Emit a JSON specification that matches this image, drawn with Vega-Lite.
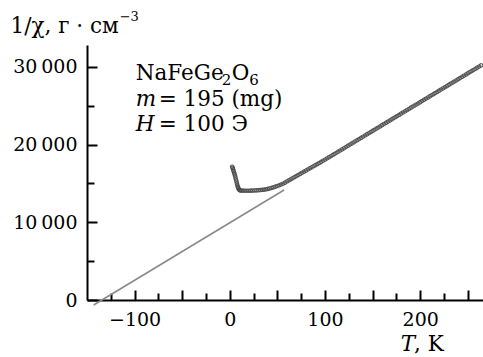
{
  "$schema": "https://vega.github.io/schema/vega-lite/v6.json",
  "width": 396,
  "height": 255,
  "autosize": {"type": "none"},
  "padding": {"left": 87, "top": 45, "right": 0, "bottom": 57},
  "config": {
    "view": {"stroke": null},
    "font": "DejaVu Serif",
    "axis": {
      "grid": false,
      "domainColor": "black",
      "domainWidth": 2,
      "tickColor": "black",
      "tickWidth": 2,
      "labelFont": "DejaVu Serif",
      "labelFontSize": 19,
      "labelColor": "black",
      "title": null,
      "labelOverlap": false,
      "labelFlush": false
    }
  },
  "resolve": {"axis": {"x": "independent", "y": "independent"}},
  "layer": [
    {
      "data": {"values": [
        {"T": -143, "v": -640},
        {"T": 57, "v": 14150}
      ]},
      "mark": {"type": "line", "color": "#8a8a8a", "strokeWidth": 1.6, "clip": false},
      "encoding": {
        "x": {
          "field": "T", "type": "quantitative",
          "scale": {"domain": [-150, 266], "nice": false, "zero": false},
          "axis": {
            "orient": "bottom",
            "values": [-100, -50, 0, 50, 100, 150, 200, 250],
            "tickSize": -10,
            "labelPadding": 20,
            "labelExpr": "datum.value % 100 === 0 ? datum.label : ''"
          }
        },
        "y": {
          "field": "v", "type": "quantitative",
          "scale": {"domain": [0, 32800], "nice": false, "zero": false},
          "axis": {
            "orient": "left",
            "values": [0, 10000, 20000, 30000],
            "tickSize": -10,
            "labelPadding": 20,
            "labelExpr": "datum.value === 0 ? '0' : format(datum.value / 1000, 'd') + '\u2009000'"
          }
        }
      }
    },
    {
      "data": {"values": [
        {"T": 2.5, "v": 17150}, {"T": 3, "v": 17000}, {"T": 3.5, "v": 16800}, {"T": 4, "v": 16600},
        {"T": 4.5, "v": 16400}, {"T": 5, "v": 16200}, {"T": 5.5, "v": 16000}, {"T": 6, "v": 15750},
        {"T": 6.5, "v": 15500}, {"T": 7, "v": 15250}, {"T": 7.5, "v": 15000}, {"T": 8, "v": 14750},
        {"T": 8.5, "v": 14550}, {"T": 9, "v": 14400}, {"T": 9.5, "v": 14250}, {"T": 10, "v": 14150},
        {"T": 11, "v": 14100}, {"T": 12, "v": 14080}, {"T": 14, "v": 14070}, {"T": 16, "v": 14060},
        {"T": 18, "v": 14060}, {"T": 20, "v": 14060}, {"T": 22, "v": 14070}, {"T": 24, "v": 14080},
        {"T": 26, "v": 14090}, {"T": 28, "v": 14100}, {"T": 30, "v": 14120}, {"T": 32, "v": 14140},
        {"T": 34, "v": 14170}, {"T": 36, "v": 14200}, {"T": 38, "v": 14240}, {"T": 40, "v": 14290},
        {"T": 42, "v": 14350}, {"T": 44, "v": 14420}, {"T": 46, "v": 14500}, {"T": 48, "v": 14580},
        {"T": 50, "v": 14670}, {"T": 52, "v": 14760}, {"T": 54, "v": 14860}, {"T": 56, "v": 14960},
        {"T": 58, "v": 15100}, {"T": 60, "v": 15250}, {"T": 62, "v": 15390}, {"T": 64, "v": 15530},
        {"T": 66, "v": 15670}, {"T": 68, "v": 15810}, {"T": 70, "v": 15950}, {"T": 72, "v": 16090},
        {"T": 74, "v": 16230}, {"T": 76, "v": 16370}, {"T": 78, "v": 16510}, {"T": 80, "v": 16650},
        {"T": 82, "v": 16790}, {"T": 84, "v": 16930}, {"T": 86, "v": 17070}, {"T": 88, "v": 17210},
        {"T": 90, "v": 17350}, {"T": 92, "v": 17490}, {"T": 94, "v": 17630}, {"T": 96, "v": 17770},
        {"T": 98, "v": 17910}, {"T": 100, "v": 18050}, {"T": 102, "v": 18200}, {"T": 104, "v": 18350},
        {"T": 106, "v": 18490}, {"T": 108, "v": 18640}, {"T": 110, "v": 18790}, {"T": 112, "v": 18940},
        {"T": 114, "v": 19090}, {"T": 116, "v": 19230}, {"T": 118, "v": 19380}, {"T": 120, "v": 19530},
        {"T": 122, "v": 19680}, {"T": 124, "v": 19830}, {"T": 126, "v": 19970}, {"T": 128, "v": 20120},
        {"T": 130, "v": 20270}, {"T": 132, "v": 20420}, {"T": 134, "v": 20570}, {"T": 136, "v": 20710},
        {"T": 138, "v": 20860}, {"T": 140, "v": 21010}, {"T": 142, "v": 21160}, {"T": 144, "v": 21310},
        {"T": 146, "v": 21450}, {"T": 148, "v": 21600}, {"T": 150, "v": 21750}, {"T": 152, "v": 21900},
        {"T": 154, "v": 22050}, {"T": 156, "v": 22190}, {"T": 158, "v": 22340}, {"T": 160, "v": 22490},
        {"T": 162, "v": 22640}, {"T": 164, "v": 22790}, {"T": 166, "v": 22930}, {"T": 168, "v": 23080},
        {"T": 170, "v": 23230}, {"T": 172, "v": 23380}, {"T": 174, "v": 23530}, {"T": 176, "v": 23670},
        {"T": 178, "v": 23820}, {"T": 180, "v": 23970}, {"T": 182, "v": 24120}, {"T": 184, "v": 24270},
        {"T": 186, "v": 24410}, {"T": 188, "v": 24560}, {"T": 190, "v": 24710}, {"T": 192, "v": 24860},
        {"T": 194, "v": 25010}, {"T": 196, "v": 25150}, {"T": 198, "v": 25300}, {"T": 200, "v": 25450},
        {"T": 202, "v": 25600}, {"T": 204, "v": 25750}, {"T": 206, "v": 25890}, {"T": 208, "v": 26040},
        {"T": 210, "v": 26190}, {"T": 212, "v": 26340}, {"T": 214, "v": 26490}, {"T": 216, "v": 26630},
        {"T": 218, "v": 26780}, {"T": 220, "v": 26930}, {"T": 222, "v": 27080}, {"T": 224, "v": 27230},
        {"T": 226, "v": 27370}, {"T": 228, "v": 27520}, {"T": 230, "v": 27670}, {"T": 232, "v": 27820},
        {"T": 234, "v": 27970}, {"T": 236, "v": 28110}, {"T": 238, "v": 28260}, {"T": 240, "v": 28410},
        {"T": 242, "v": 28560}, {"T": 244, "v": 28710}, {"T": 246, "v": 28850}, {"T": 248, "v": 29000},
        {"T": 250, "v": 29150}, {"T": 252, "v": 29300}, {"T": 254, "v": 29450}, {"T": 256, "v": 29590},
        {"T": 258, "v": 29740}, {"T": 260, "v": 29890}, {"T": 262, "v": 30040}, {"T": 264, "v": 30190}
      ]},
      "mark": {"type": "point", "shape": "circle", "filled": false, "size": 12, "strokeWidth": 1.1, "color": "#4a4a4a", "opacity": 0.9},
      "encoding": {
        "x": {
          "field": "T", "type": "quantitative",
          "axis": {
            "orient": "bottom",
            "values": [-125, -75, -25, 25, 75, 125, 175, 225],
            "tickSize": -7,
            "labels": false,
            "domain": false
          }
        },
        "y": {
          "field": "v", "type": "quantitative",
          "axis": {
            "orient": "left",
            "values": [5000, 15000, 25000],
            "tickSize": -7,
            "labels": false,
            "domain": false
          }
        }
      }
    },
    {
      "data": {"values": [
        {"T": -98.8, "v": 28300, "t": "NaFeGe"},
        {"T": 2.1, "v": 28300, "t": "O"},
        {"T": -230.3, "v": 34360, "t": "1/χ, г · см"},
        {"T": 193.5, "v": -6600, "t": ", K"}
      ]},
      "mark": {"type": "text", "align": "left", "baseline": "alphabetic", "font": "DejaVu Serif", "fontSize": 21.5, "color": "black"},
      "encoding": {
        "x": {"field": "T", "type": "quantitative", "axis": null},
        "y": {"field": "v", "type": "quantitative", "axis": null},
        "text": {"field": "t"}
      }
    },
    {
      "data": {"values": [
        {"T": -8.4, "v": 28300, "t": "2"},
        {"T": 20.5, "v": 28300, "t": "6"}
      ]},
      "mark": {"type": "text", "align": "left", "baseline": "alphabetic", "font": "DejaVu Serif", "fontSize": 15, "color": "black", "dy": 5},
      "encoding": {
        "x": {"field": "T", "type": "quantitative", "axis": null},
        "y": {"field": "v", "type": "quantitative", "axis": null},
        "text": {"field": "t"}
      }
    },
    {
      "data": {"values": [
        {"T": -98.8, "v": 25000, "t": "= 195 (mg)"},
        {"T": -98.8, "v": 21750, "t": "= 100 Э"}
      ]},
      "mark": {"type": "text", "align": "left", "baseline": "alphabetic", "font": "DejaVu Serif", "fontSize": 21.5, "color": "black", "dx": 23},
      "encoding": {
        "x": {"field": "T", "type": "quantitative", "axis": null},
        "y": {"field": "v", "type": "quantitative", "axis": null},
        "text": {"field": "t"}
      }
    },
    {
      "data": {"values": [
        {"T": -98.8, "v": 25000, "t": "m"},
        {"T": -98.8, "v": 21750, "t": "H"},
        {"T": 179.6, "v": -6600, "t": "T"}
      ]},
      "mark": {"type": "text", "align": "left", "baseline": "alphabetic", "font": "DejaVu Serif", "fontSize": 21.5, "fontStyle": "italic", "color": "black"},
      "encoding": {
        "x": {"field": "T", "type": "quantitative", "axis": null},
        "y": {"field": "v", "type": "quantitative", "axis": null},
        "text": {"field": "t"}
      }
    },
    {
      "data": {"values": [
        {"T": -115.7, "v": 35900, "t": "−3"}
      ]},
      "mark": {"type": "text", "align": "left", "baseline": "alphabetic", "font": "DejaVu Serif", "fontSize": 13, "color": "black"},
      "encoding": {
        "x": {"field": "T", "type": "quantitative", "axis": null},
        "y": {"field": "v", "type": "quantitative", "axis": null},
        "text": {"field": "t"}
      }
    }
  ]
}
